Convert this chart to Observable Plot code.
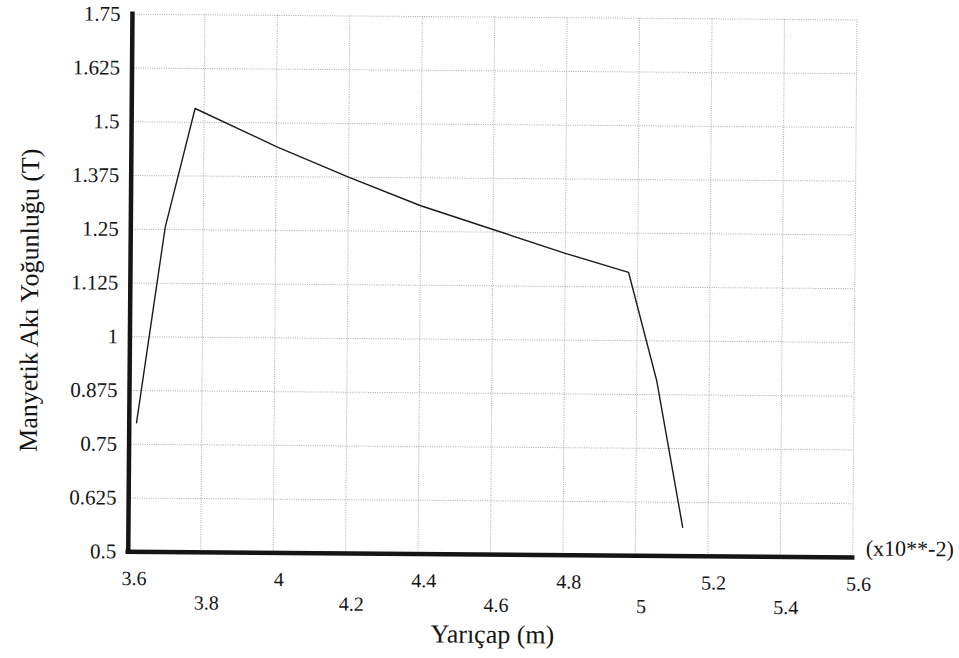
<!DOCTYPE html>
<html>
<head>
<meta charset="utf-8">
<script src="https://cdn.jsdelivr.net/npm/d3@7"></script>
<script src="https://cdn.jsdelivr.net/npm/@observablehq/plot@0.6"></script>
<style>
  html, body { margin: 0; padding: 0; background: #ffffff; }
  #chart { width: 959px; height: 658px; overflow: hidden; }
  #chart svg, #chart svg text { font-family: "Liberation Serif", "Times New Roman", serif !important; }
</style>
</head>
<body>
<div id="chart"></div>
<script>
// Radius (×10⁻² m) and magnetic flux density (T) along the radial profile
const radius = [3.62, 3.695, 3.775, 4.0, 4.2, 4.4, 4.6, 4.8, 4.975, 5.055, 5.13];
const fluxDensity = [0.80, 1.255, 1.532, 1.445, 1.375, 1.31, 1.256, 1.202, 1.159, 0.908, 0.567];

// Axis ticks and their printed labels
const xTicksUpper = [3.6, 4.0, 4.4, 4.8, 5.2, 5.6];
const xTicksLower = [3.8, 4.2, 4.6, 5.0, 5.4];
const xTickLabels = ["3.6", "3.8", "4", "4.2", "4.4", "4.6", "4.8", "5", "5.2", "5.4", "5.6"];
const yTicks = [0.5, 0.625, 0.75, 0.875, 1, 1.125, 1.25, 1.375, 1.5, 1.625, 1.75];
const yTickLabels = ["0.5", "0.625", "0.75", "0.875", "1", "1.125", "1.25", "1.375", "1.5", "1.625", "1.75"];

const xTitle = "Yarıçap (m)";
const yTitle = "Manyetik Akı Yoğunluğu (T)";
const xMultiplier = "(x10**-2)";

const points = radius.map((r, i) => ({r, b: fluxDensity[i]}));
const xAll = [...xTicksUpper, ...xTicksLower].sort((a, b) => a - b);
const xLabel = new Map(xAll.map((v, i) => [v, xTickLabels[i]]));
const yLabel = new Map(yTicks.map((v, i) => [v, yTickLabels[i]]));

const serif = "Liberation Serif, Times New Roman, serif";
const gridStyle = {stroke: "#8c8c8c", strokeOpacity: 0.75, strokeWidth: 1, strokeDasharray: "1,1.3"};
const ink = "#151515";

const chart = Plot.plot({
  width: 959,
  height: 658,
  marginLeft: 129.5,
  marginRight: 105,
  marginTop: 16.5,
  marginBottom: 104,
  x: {domain: [3.6, 5.6]},
  y: {domain: [0.5, 1.75]},
  style: {
    fontFamily: serif,
    color: ink,
    background: "#ffffff",
    overflow: "visible"
  },
  marks: [
    Plot.gridX(xAll, gridStyle),
    Plot.gridY(yTicks, gridStyle),
    Plot.axisY(yTicks, {
      tickSize: 0, tickPadding: 12, fontSize: 21, fontFamily: serif, fill: ink, label: null,
      tickFormat: d => yLabel.get(d)
    }),
    Plot.axisX(xTicksUpper, {
      tickSize: 0, tickPadding: 19, fontSize: 20, fontFamily: serif, fill: ink, label: null, dx: 6,
      tickFormat: d => xLabel.get(d)
    }),
    Plot.axisX(xTicksLower, {
      tickSize: 0, tickPadding: 43, fontSize: 20, fontFamily: serif, fill: ink, label: null, dx: 6,
      tickFormat: d => xLabel.get(d)
    }),
    Plot.line(points, {x: "r", y: "b", stroke: "#1b1b1b", strokeWidth: 1.4, strokeLinejoin: "round"}),
    Plot.ruleX([3.6], {stroke: ink, strokeWidth: 4.5, strokeLinecap: "square"}),
    Plot.ruleY([0.5], {stroke: ink, strokeWidth: 4.5, strokeLinecap: "square"}),
    Plot.text([xMultiplier], {
      x: 5.6, y: 0.5, text: d => d, textAnchor: "start", lineAnchor: "middle",
      dx: 13, dy: -9, fontSize: 22, fontFamily: serif, fill: ink
    }),
    Plot.text([xTitle], {
      frameAnchor: "bottom", text: d => d, textAnchor: "middle", lineAnchor: "middle",
      dx: 2.6, dy: 80, fontSize: 26, fontFamily: serif, fill: ink
    }),
    Plot.text([yTitle], {
      frameAnchor: "left", text: d => d, textAnchor: "middle", lineAnchor: "middle", rotate: -90,
      dx: -100.5, dy: 18, fontSize: 26, fontFamily: serif, fill: ink
    })
  ]
});

// Every label in the figure is set in the same serif face
d3.select(chart).selectAll("text").attr("font-family", serif).style("font-family", serif);

// The printed figure sits very slightly askew on the page
chart.style.transformOrigin = "479.5px 329px";
chart.style.transform = "rotate(0.45deg)";

document.getElementById("chart").appendChild(chart);
</script>
</body>
</html>
